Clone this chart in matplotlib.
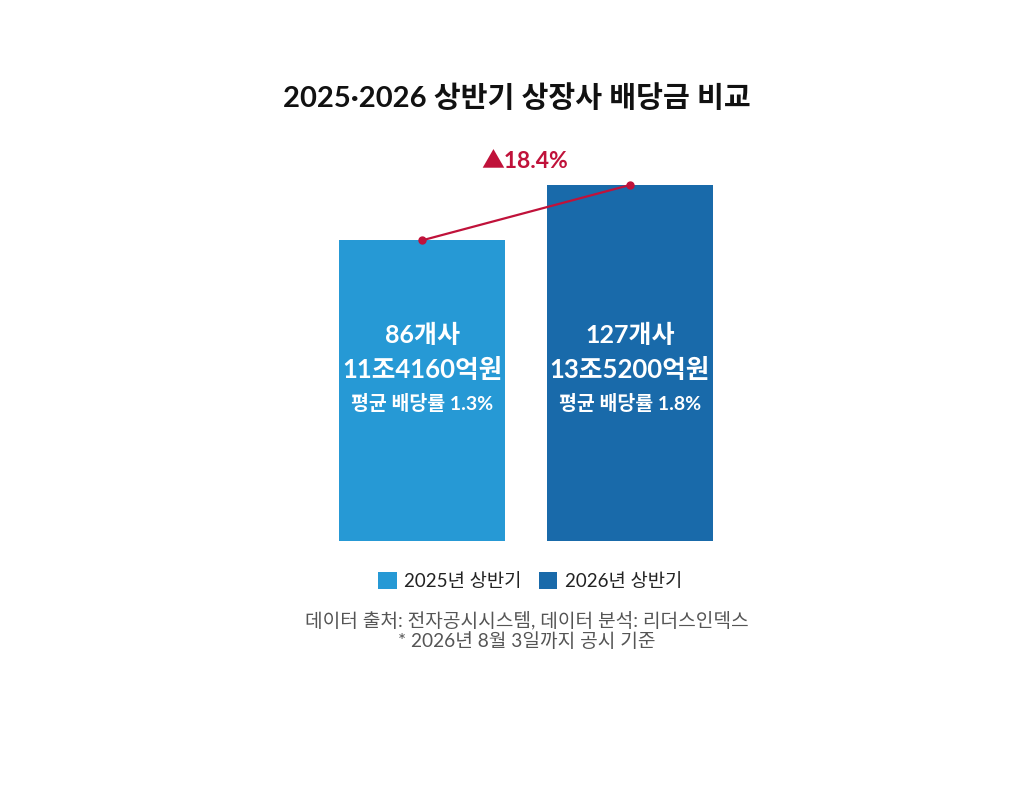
import matplotlib
matplotlib.use('Agg')
import matplotlib.pyplot as plt

periods = ['2025년 상반기', '2026년 상반기']
dividends = [114160, 135200]  # 억원
companies = ['86개사', '127개사']
amount_labels = ['11조4160억원', '13조5200억원']
yield_labels = ['평균 배당률 1.3%', '평균 배당률 1.8%']
change_label = '▲18.4%'
title = '2025·2026 상반기 상장사 배당금 비교'
source_lines = ['데이터 출처: 전자공시시스템, 데이터 분석: 리더스인덱스',
                '* 2026년 8월 3일까지 공시 기준']

colors = ['#2699d5', '#196aaa']
red = '#c0123a'
fonts = ['Lato', 'Noto Sans CJK KR', 'DejaVu Sans']
plt.rcParams['font.family'] = fonts

fig = plt.figure(figsize=(10.24, 7.89), dpi=100)
ax = fig.add_axes([297.2 / 1024, (789 - 541) / 789, 457.6 / 1024, 395 / 789])

x = [0, 1]
bars = ax.bar(x, dividends, width=0.8, color=colors, label=periods)
ax.plot(x, dividends, color=red, lw=1.6, marker='o', ms=5, zorder=3)

for i in x:
    ax.text(i, 0.52 * 150000, companies[i], ha='center', va='center',
            color='white', fontsize=18, fontweight='bold')
    ax.text(i, 0.433 * 150000, amount_labels[i], ha='center', va='center',
            color='white', fontsize=18.5, fontweight='bold')
    ax.text(i, 0.347 * 150000, yield_labels[i], ha='center', va='center',
            color='white', fontsize=14, fontweight='bold')

ax.set_xlim(-0.6, 1.6)
ax.set_ylim(0, 150000)
ax.axis('off')

fig.text(517 / 1024, 1 - 98 / 789, title, ha='center', va='center',
         fontsize=21, fontweight='bold', color='#111111')
fig.text(525 / 1024, 1 - 162 / 789, change_label, ha='center', va='center',
         fontsize=16.5, fontweight='bold', color=red)

fig.legend(handles=list(bars), labels=periods, loc='center',
           bbox_to_anchor=(530 / 1024, 1 - 581 / 789), ncol=2, frameon=False,
           fontsize=13.5, handlelength=1.0, handleheight=1.0, handletextpad=0.4,
           columnspacing=0.9, labelcolor='#222222')

fig.text(527 / 1024, 1 - 620 / 789, source_lines[0], ha='center', va='center',
         fontsize=13.8, color='#555555')
fig.text(527 / 1024, 1 - 641 / 789, source_lines[1], ha='center', va='center',
         fontsize=13.8, color='#555555')

fig.savefig('out.png', dpi=100, facecolor='white')
